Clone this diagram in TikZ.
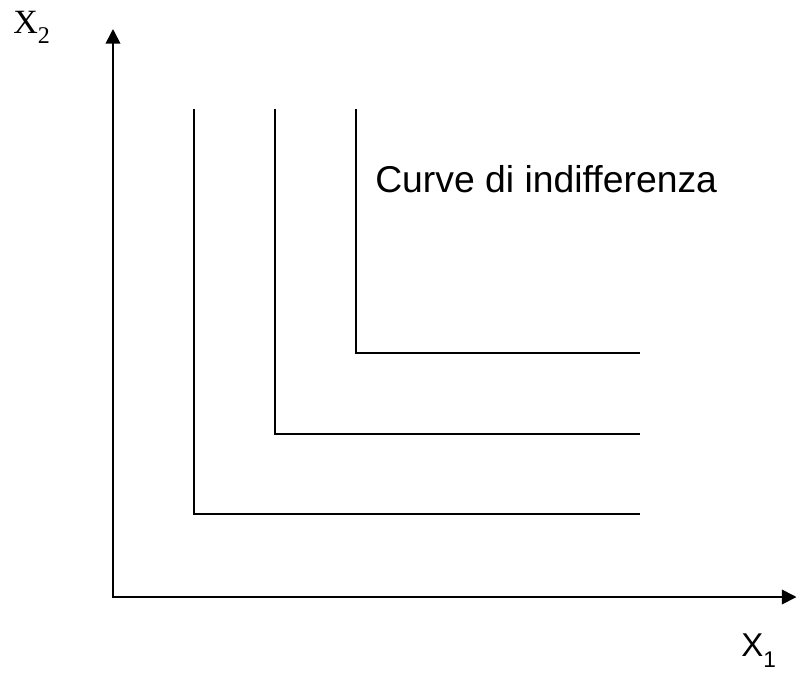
\documentclass[tikz,border=0pt]{standalone}
\usepackage{fontspec}
\setmainfont[Ligatures=NoCommon]{Liberation Sans}
\newfontfamily\axisserif{Liberation Serif}
\usepackage{tikz}
\usetikzlibrary{arrows.meta}

\begin{document}
\begin{tikzpicture}[
    x=0.75pt, y=-0.75pt,
    axis/.style={line width=1.3pt, {Triangle[length=11pt,width=11pt]}-{Triangle[length=11pt,width=11pt]}},
    curve/.style={line width=1.3pt, line join=miter},
    label/.style={inner sep=0pt, anchor=base west}
]
    \useasboundingbox (0,0) rectangle (797,672);

    % Axes
    \coordinate (origin) at (113,597);
    \coordinate (ytip) at (113,29);
    \coordinate (xtip) at (796.5,597);
    \draw [axis] (ytip) -- (origin) -- (xtip);

    % Axis labels
    \node (xtwo) [label] at (13,33) {\axisserif\fontsize{25.5pt}{27pt}\selectfont X\raisebox{-7.5pt}{\fontsize{18pt}{20pt}\selectfont 2}};
    \node (xone) [label] at (741,656) {\fontsize{24.75pt}{27pt}\selectfont X\raisebox{-8.5pt}{\fontsize{17pt}{19pt}\selectfont 1}};

    % Indifference curves
    \foreach \i/\cx/\cy in {1/194/514, 2/275/434, 3/356/353} {
        \coordinate (top\i) at (\cx,109);
        \coordinate (end\i) at (640,\cy);
        \draw [curve] (top\i) |- (end\i);
    }

    % Label
    \node (curvelabel) [label] at (375,192) {\fontsize{28pt}{31pt}\selectfont Curve di indifferenza};
\end{tikzpicture}
\end{document}
